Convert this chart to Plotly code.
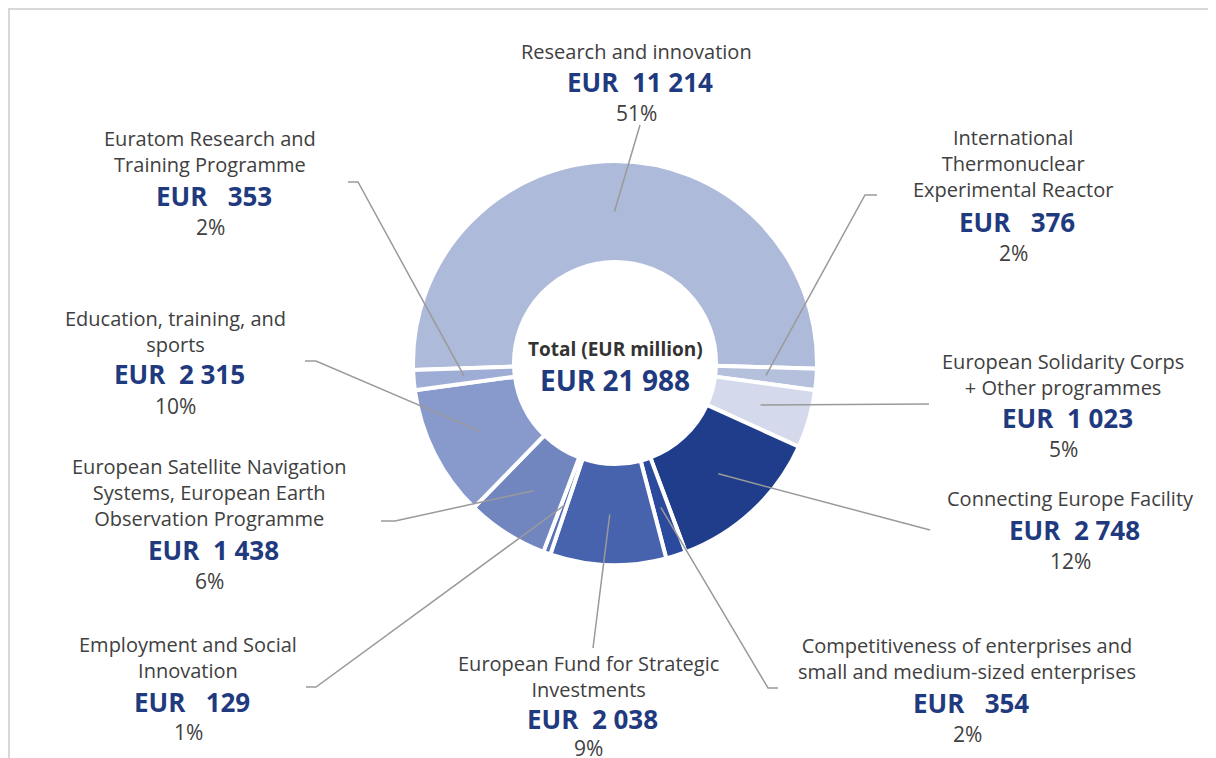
import math
import plotly.graph_objects as go

# ---------------- data ----------------
categories = [
    "Research and innovation",
    "International Thermonuclear Experimental Reactor",
    "European Solidarity Corps + Other programmes",
    "Connecting Europe Facility",
    "Competitiveness of enterprises and small and medium-sized enterprises",
    "European Fund for Strategic Investments",
    "Employment and Social Innovation",
    "European Satellite Navigation Systems, European Earth Observation Programme",
    "Education, training, and sports",
    "Euratom Research and Training Programme",
]
label_lines = [
    ["Research and innovation"],
    ["International", "Thermonuclear", "Experimental Reactor"],
    ["European Solidarity Corps", "+ Other programmes"],
    ["Connecting Europe Facility"],
    ["Competitiveness of enterprises and", "small and medium-sized enterprises"],
    ["European Fund for Strategic", "Investments"],
    ["Employment and Social", "Innovation"],
    ["European Satellite Navigation", "Systems, European Earth", "Observation Programme"],
    ["Education, training, and", "sports"],
    ["Euratom Research and", "Training Programme"],
]
values_eur_m = [11214, 376, 1023, 2748, 354, 2038, 129, 1438, 2315, 353]
percent_labels = ["51%", "2%", "5%", "12%", "2%", "9%", "1%", "6%", "10%", "2%"]
total_title = "Total (EUR million)"
total_value = 21988

# ---------------- styles / layout ----------------
OFF = 8                      # page body margin of the html page
W, H = 1216 - OFF, 758 - OFF
colors = ["#aebad9", "#b5c0dd", "#d4daeb", "#1f3d8b", "#2c4a9d", "#4863ad",
          "#5a73b6", "#7185bf", "#8899cb", "#9eadd5"]
NAVY = "#1f3a7e"
GREY_TXT = "#404040"
LINE_C = "#9a9a9a"
FONT = "Open Sans"

cx, cy, R = 615, 363, 202        # pie centre / radius in screen px
HOLE = 0.5
ROT = -92                         # start angle (deg clockwise from 12 o'clock)

# label placement: (centre x, y of first & last name line, y of EUR line, y of pct line)
label_pos = [
    (636, [52], 82, 113),
    (1013, [137, 164, 190], 222, 253),
    (1063, [361, 388], 418, 449),
    (1070, [499], 530, 561),
    (967, [645, 672], 703, 734),
    (588, [663, 690], 719, 748),
    (188, [643, 671], 702, 732),
    (209, [467, 493, 519], 550, 581),
    (175, [317, 345], 374, 406),
    (210, [138, 166], 196, 227),
]
# leader lines: (elbow x, elbow y, end x)
leaders = [
    (640, 125, 640),
    (865, 195, 877),
    (929, 404, 929),
    (930, 530, 930),
    (768, 688, 778),
    (593, 648, 593),
    (316, 687, 306),
    (395, 521, 381),
    (316, 361, 305),
    (358, 182, 348),
]


def px(x):
    return (x - OFF) / W


def py(y):
    return 1 - (y - OFF) / H


def fmt_eur(v):
    s = f"{v:,}".replace(",", "\u00a0")
    gap = "\u00a0\u00a0" if v >= 1000 else "\u00a0\u00a0\u00a0"
    return "EUR" + gap + s


fig = go.Figure()
fig.add_trace(go.Pie(
    labels=categories,
    values=values_eur_m,
    sort=False,
    direction="clockwise",
    rotation=ROT,
    hole=HOLE,
    marker=dict(colors=colors, line=dict(color="white", width=4)),
    textinfo="none",
    hoverinfo="label+value",
    showlegend=False,
    domain=dict(x=[px(cx - R), px(cx + R)], y=[py(cy + R), py(cy - R)]),
))

shapes = []
annotations = []
total = sum(values_eur_m)
cum = 0.0
r_mid = R * (1 + HOLE) / 2
for i, v in enumerate(values_eur_m):
    mid = ROT + (cum + v / 2) / total * 360
    cum += v
    a = math.radians(mid)
    sx = cx + r_mid * math.sin(a)
    sy = cy - r_mid * math.cos(a)
    ex, ey, endx = leaders[i]
    path = f"M {px(sx)},{py(sy)} L {px(ex)},{py(ey)} L {px(endx)},{py(ey)}"
    shapes.append(dict(type="path", xref="paper", yref="paper", path=path,
                       line=dict(color=LINE_C, width=1.5)))

    lx, name_ys, eur_y, pct_y = label_pos[i]
    name_mid = (name_ys[0] + name_ys[-1]) / 2
    annotations.append(dict(x=px(lx), y=py(name_mid), xref="paper", yref="paper",
                            text="<br>".join(label_lines[i]), showarrow=False,
                            xanchor="center", yanchor="middle", align="center",
                            font=dict(family=FONT, size=20, color=GREY_TXT)))
    annotations.append(dict(x=px(lx + 4), y=py(eur_y), xref="paper", yref="paper",
                            text="<b>" + fmt_eur(v) + "</b>", showarrow=False,
                            xanchor="center", yanchor="middle",
                            font=dict(family=FONT, size=26, color=NAVY)))
    annotations.append(dict(x=px(lx), y=py(pct_y), xref="paper", yref="paper",
                            text=percent_labels[i], showarrow=False,
                            xanchor="center", yanchor="middle",
                            font=dict(family=FONT, size=21, color=GREY_TXT)))

# centre text
annotations.append(dict(x=px(cx), y=py(349), xref="paper", yref="paper",
                        text="<b>" + total_title + "</b>", showarrow=False,
                        xanchor="center", yanchor="middle",
                        font=dict(family=FONT, size=19, color="#333333")))
annotations.append(dict(x=px(cx), y=py(380), xref="paper", yref="paper",
                        text="<b>EUR " + f"{total_value:,}".replace(",", "\u00a0") + "</b>",
                        showarrow=False, xanchor="center", yanchor="middle",
                        font=dict(family=FONT, size=28, color=NAVY)))

# frame
shapes.append(dict(type="rect", xref="paper", yref="paper",
                   x0=px(9), y0=py(780), x1=px(1240), y1=py(9),
                   line=dict(color="#d8d8d8", width=2), layer="below"))

fig.update_layout(
    width=W, height=H, autosize=False,
    margin=dict(l=0, r=0, t=0, b=0),
    paper_bgcolor="white", plot_bgcolor="white",
    shapes=shapes, annotations=annotations,
    font=dict(family=FONT),
)

fig.write_html("out.html")
